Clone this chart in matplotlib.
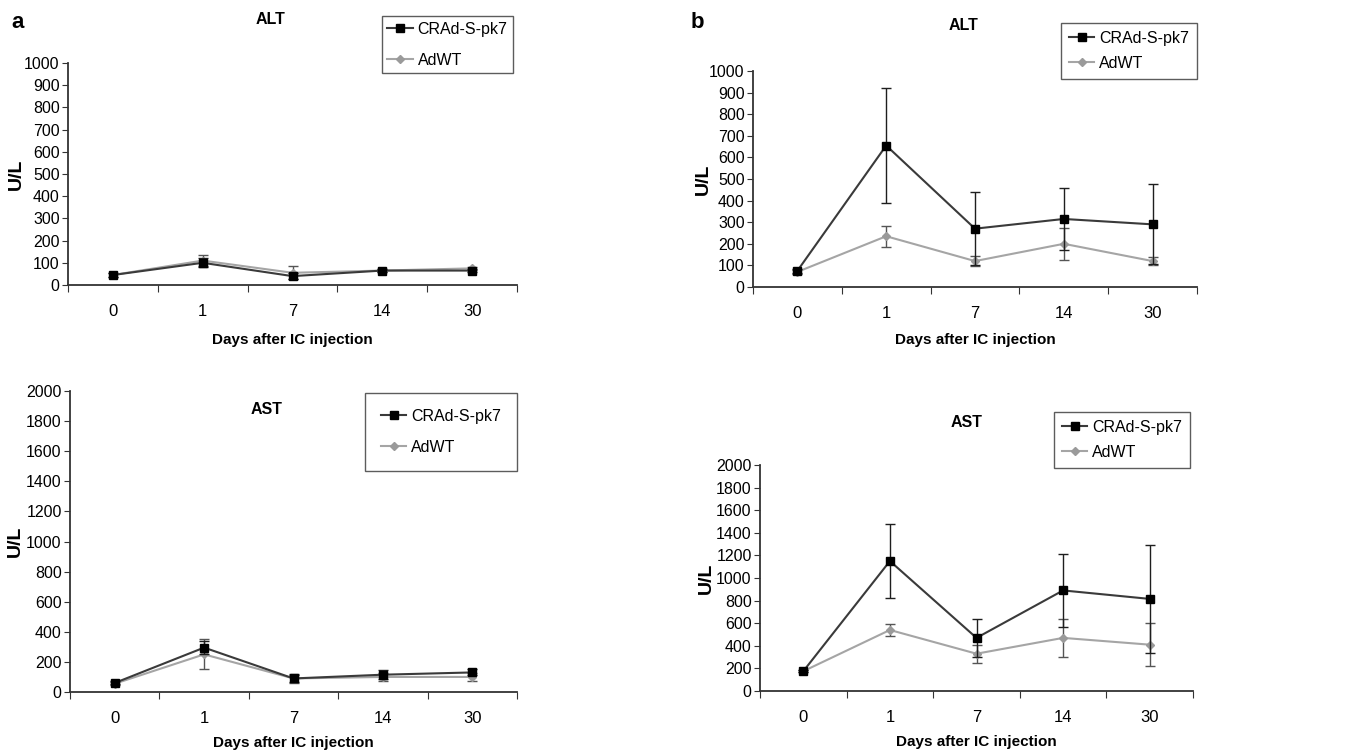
import matplotlib
matplotlib.use("Agg")
from matplotlib import pyplot as plt
from matplotlib.lines import Line2D

plt.rcParams["font.family"] = ["Liberation Sans", "DejaVu Sans"]

days = ["0", "1", "7", "14", "30"]
series_names = ["CRAd-S-pk7", "AdWT"]

# panel a, ALT
a_alt_crad = [45, 100, 40, 65, 65]
a_alt_crad_err = [10, 20, 15, 5, 8]
a_alt_wt = [45, 110, 55, 65, 75]
a_alt_wt_err = [8, 25, 30, 5, 8]

# panel a, AST
a_ast_crad = [60, 295, 90, 115, 130]
a_ast_crad_err = [10, 45, 25, 30, 20]
a_ast_wt = [55, 250, 90, 100, 100]
a_ast_wt_err = [10, 100, 30, 25, 25]

# panel b, ALT
b_alt_crad = [75, 655, 270, 315, 290]
b_alt_crad_err = [10, 265, 170, 145, 185]
b_alt_wt = [70, 235, 120, 200, 120]
b_alt_wt_err = [10, 48, 25, 75, 20]

# panel b, AST
b_ast_crad = [175, 1150, 470, 890, 815]
b_ast_crad_err = [10, 330, 170, 325, 480]
b_ast_wt = [175, 540, 330, 470, 410]
b_ast_wt_err = [10, 50, 78, 165, 192]

W, H = 1360, 756
fig = plt.figure(figsize=(W / 100, H / 100), dpi=100)
fig.patch.set_facecolor("white")

DARK = "#1e1e1e"
LIGHT = "#a5a5a5"


def px_axes(x0, y0, x1, y1):
    return fig.add_axes([x0 / W, 1 - y1 / H, (x1 - x0) / W, (y1 - y0) / H])


def draw_panel(ax, box, crad, crad_err, wt, wt_err, ymax, ystep, ylab_x, xlab_y):
    x = list(range(len(days)))
    ax.errorbar(x, wt, yerr=wt_err, color=LIGHT, ecolor="#555555", lw=1.5,
                marker="D", ms=4, mfc="#9a9a9a", mec="#9a9a9a",
                capsize=3.5, elinewidth=1.0, capthick=1.0, zorder=2)
    ax.errorbar(x, crad, yerr=crad_err, color="#3a3a3a", ecolor=DARK, lw=1.5,
                marker="s", ms=5.5, mfc="black", mec="black",
                capsize=3.5, elinewidth=1.0, capthick=1.0, zorder=3)
    ax.set_xlim(-0.5, len(days) - 0.5)
    ax.set_ylim(0, ymax)
    ax.set_yticks(range(0, ymax + 1, ystep))
    ax.set_xticks([i - 0.5 for i in range(len(days) + 1)])
    ax.set_xticklabels([])
    ax.set_xticks(x, minor=True)
    ax.set_xticklabels(days, minor=True)
    ax.tick_params(axis="x", which="major", length=5, direction="out", color="#333333")
    ax.tick_params(axis="x", which="minor", length=0, pad=14, labelsize=12)
    ax.tick_params(axis="y", length=4, direction="out", labelsize=11.5, pad=2, color="#333333")
    for s in ["top", "right"]:
        ax.spines[s].set_visible(False)
    for s in ["left", "bottom"]:
        ax.spines[s].set_color("#333333")
        ax.spines[s].set_linewidth(1.3)
    x0, y0, x1, y1 = box
    ax.set_ylabel("U/L", fontsize=14, fontweight="bold")
    ax.yaxis.set_label_coords((ylab_x - x0) / (x1 - x0), 0.5)
    ax.set_xlabel("Days after IC injection", fontsize=11, fontweight="bold")
    ax.xaxis.set_label_coords(0.5, (y1 - xlab_y) / (y1 - y0))
    ax.xaxis.label.set_va("center")
    ax.yaxis.label.set_va("center")


def legend(ax, x1, y0, spacing, pad=0.5):
    handles = [
        Line2D([], [], color="#3a3a3a", lw=1.5, marker="s", ms=5.5, mfc="black", mec="black"),
        Line2D([], [], color=LIGHT, lw=1.5, marker="D", ms=4, mfc="#9a9a9a", mec="#9a9a9a"),
    ]
    leg = ax.legend(handles, series_names, loc="upper right",
                    bbox_to_anchor=(x1 / W, 1 - y0 / H), bbox_transform=fig.transFigure,
                    fontsize=11.5, frameon=True, fancybox=False, edgecolor="#333333",
                    handlelength=1.6, handletextpad=0.3, labelspacing=spacing,
                    borderpad=pad, borderaxespad=0)
    leg.get_frame().set_linewidth(1.0)


box1 = (68, 63, 517, 285)
ax1 = px_axes(*box1)
draw_panel(ax1, box1, a_alt_crad, a_alt_crad_err, a_alt_wt, a_alt_wt_err, 1000, 100, 16, 340)
legend(ax1, 513, 16, 1.0, 0.35)

box2 = (753, 71, 1197, 287)
ax2 = px_axes(*box2)
draw_panel(ax2, box2, b_alt_crad, b_alt_crad_err, b_alt_wt, b_alt_wt_err, 1000, 100, 703, 340)
legend(ax2, 1197, 23, 0.6)

box3 = (70, 391, 517, 692)
ax3 = px_axes(*box3)
draw_panel(ax3, box3, a_ast_crad, a_ast_crad_err, a_ast_wt, a_ast_wt_err, 2000, 200, 15, 743)
legend(ax3, 517, 393, 1.0, 1.0)

box4 = (760, 465, 1193, 691)
ax4 = px_axes(*box4)
draw_panel(ax4, box4, b_ast_crad, b_ast_crad_err, b_ast_wt, b_ast_wt_err, 2000, 200, 706, 742)
legend(ax4, 1190, 412, 0.6)

# titles and panel letters
for txt, px, py in [("ALT", 270, 20), ("ALT", 963, 25), ("AST", 267, 409), ("AST", 967, 422)]:
    fig.text(px / W, 1 - py / H, txt, ha="center", va="center", fontsize=11.5, fontweight="bold")
fig.text(18 / W, 1 - 22 / H, "a", ha="center", va="center", fontsize=16, fontweight="bold")
fig.text(697 / W, 1 - 22 / H, "b", ha="center", va="center", fontsize=16, fontweight="bold")

fig.savefig("out.png", dpi=100, facecolor="white")
